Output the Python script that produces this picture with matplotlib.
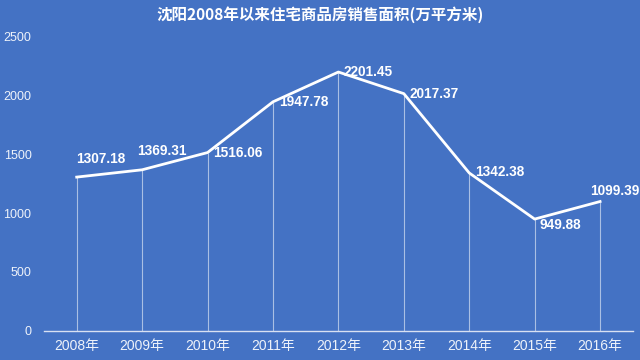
import matplotlib
matplotlib.use("Agg")
import matplotlib.pyplot as plt

plt.rcParams['font.family'] = ['Liberation Sans', 'Noto Sans CJK SC', 'DejaVu Sans']

years = ['2008年', '2009年', '2010年', '2011年', '2012年', '2013年', '2014年', '2015年', '2016年']
values = [1307.18, 1369.31, 1516.06, 1947.78, 2201.45, 2017.37, 1342.38, 949.88, 1099.39]
yticks = [0, 500, 1000, 1500, 2000, 2500]
title = '沈阳2008年以来住宅商品房销售面积(万平方米)'

# label offsets in pixels (style only)
label_offsets = [(-1, 18), (-5, 19), (6, 0), (6, 0), (5, 0), (6, 0), (6, 1), (5, -6), (-10, 11)]

bg = '#4472C4'
fig = plt.figure(figsize=(6.4, 3.6), dpi=100, facecolor=bg)
ax = fig.add_axes([0.06875, 0.0814, 0.920, 0.816], facecolor=bg)

x = list(range(len(years)))
ax.vlines(x, 0, values, colors='white', linewidth=0.8, alpha=0.55)
ax.plot(x, values, color='white', linewidth=2.0, solid_joinstyle='round')

for xi, v, (dx, dy) in zip(x, values, label_offsets):
    ax.annotate(f'{v:.2f}', (xi, v), xytext=(dx, dy), textcoords='offset pixels',
                ha='left', va='center', color='white', fontsize=9.8, fontweight='bold',
                annotation_clip=False)

ax.set_xlim(-0.5, len(years) - 0.5)
ax.set_ylim(0, 2500)
ax.set_xticks(x)
ax.set_xticklabels(years)
ax.set_yticks(yticks)
ax.set_yticklabels([str(t) for t in yticks])
ax.tick_params(axis='both', length=0, colors='#EEF2FA')
ax.tick_params(axis='x', labelsize=10, pad=6)
ax.tick_params(axis='y', labelsize=9, pad=9)

for s in ['top', 'right', 'left']:
    ax.spines[s].set_visible(False)
ax.spines['bottom'].set_color('#D9E1F2')
ax.spines['bottom'].set_linewidth(1.0)

fig.text(0.5, 1 - 15 / 360, title, ha='center', va='center', color='white',
         fontsize=11.2, fontweight='bold', family=['Noto Sans CJK SC', 'DejaVu Sans'])

fig.savefig('out.png', dpi=100, facecolor=bg)
